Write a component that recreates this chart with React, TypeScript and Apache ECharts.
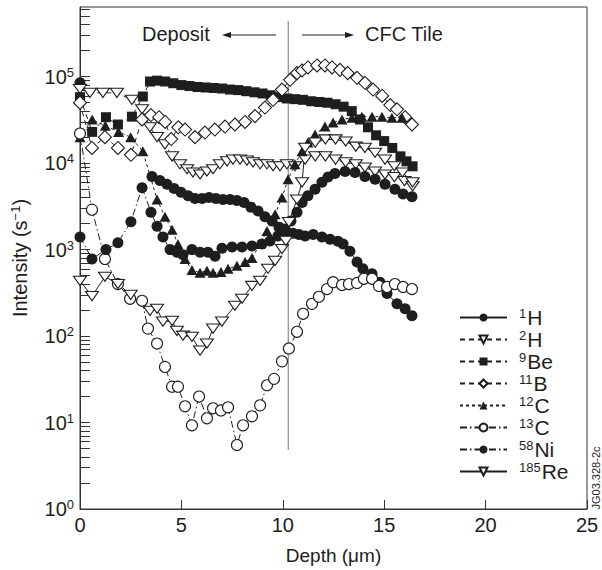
import React, { useEffect, useRef } from 'react';
import * as echarts from 'echarts';

const FONT = '"Liberation Sans", Arial, Helvetica, sans-serif';
const INK = '#1e1e1e';

// ---- data (x: depth in µm, y: intensity in counts/s) ----
const h1 = [[0,85000],[0.3,null],[3.55,7000],[3.94,6300],[4.29,5700],[4.64,5100],[4.98,4600],[5.33,4200],[5.67,3900],[6.02,3900],[6.36,4000],[6.7,3900],[7.05,3800],[7.4,3800],[7.74,3700],[8.09,3500],[8.43,3100],[8.78,2800],[9.12,2400],[9.47,2150],[9.81,1820],[10.16,1600],[10.5,1550],[10.8,1500],[11.1,1440],[11.5,1500],[11.93,1400],[12.33,1320],[12.72,1250],[12.97,1160],[13.31,960],[13.66,720],[13.95,600],[14.4,525],[14.79,420],[15.14,310],[15.63,236],[16.03,207],[16.37,172]];
const h2 = [[0,72000],[0.49,65000],[1.13,65000],[1.82,65000],[2.56,54000],[3.06,42000],[3.45,26000],[3.8,20000],[4.19,16500],[4.54,12000],[4.93,9700],[5.28,8500],[5.57,7800],[5.92,7400],[6.26,8000],[6.56,8500],[6.9,9700],[7.25,10500],[7.54,11000],[7.89,11000],[8.23,10700],[8.53,10200],[8.88,9700],[9.22,9700],[9.52,9200],[9.86,9200],[10.2,9700],[10.6,9200],[11.1,11000],[11.6,12000],[12.1,12000],[12.6,11000],[13.1,10200],[13.6,9700],[14.05,8900],[14.55,8000],[15.04,7400],[15.5,6900],[16.0,6200],[16.4,5400]];
const be9 = [[0,58000],[0.6,23000],[1.28,34000],[1.87,28000],[2.56,34500],[3.1,59000],[3.45,88000],[3.8,90000],[4.2,88000],[4.6,84000],[5.0,80000],[5.4,78000],[5.8,76000],[6.2,75000],[6.6,74000],[7.0,73000],[7.4,71000],[7.8,70000],[8.2,68000],[8.6,66000],[9.0,64000],[9.4,61000],[9.8,58000],[10.2,56000],[10.6,55000],[11.0,54000],[11.4,52000],[11.8,51000],[12.2,50000],[12.6,48000],[13.0,45000],[13.4,40000],[13.8,32000],[14.2,26000],[14.6,21000],[15.0,18000],[15.4,15000],[15.8,12000],[16.1,10500],[16.4,9200]];
const b11 = [[0,50000],[0.59,15000],[1.23,20000],[1.87,15000],[2.51,12500],[3.06,32000],[3.5,36000],[3.9,34000],[4.2,30000],[4.5,19000],[4.85,26000],[5.18,24500],[5.67,20000],[6.16,22600],[6.65,24500],[7.15,26500],[7.64,28000],[8.14,30000],[8.63,35000],[9.12,44000],[9.52,54000],[9.96,71000],[10.36,92000],[10.7,110000],[10.95,118000],[11.24,128000],[11.69,135000],[12.08,135000],[12.43,128000],[12.82,120000],[13.2,110000],[13.66,97000],[14.05,85000],[14.45,71000],[14.9,60000],[15.3,47000],[15.63,42000],[16.03,34000],[16.37,28000]];
const c12 = [[0,20000],[0.6,32000],[1.25,27000],[1.9,23000],[2.5,20000],[3.1,13700],[3.8,3800],[4.19,2400],[4.54,1700],[4.83,1150],[5.18,780],[5.52,580],[5.92,540],[6.26,570],[6.56,540],[6.95,550],[7.3,600],[7.74,650],[8.14,720],[8.48,800],[8.88,1160],[9.22,1640],[9.62,2570],[9.96,4000],[10.26,6500],[10.6,9700],[10.95,13700],[11.24,17300],[11.59,21500],[12.08,26500],[12.48,29500],[12.92,32000],[13.41,33500],[13.9,34500],[14.4,34500],[14.89,34500],[15.38,33500],[15.88,33500]];
const c13 = [[0,22000],[0.59,2900],[1.23,780],[1.87,400],[2.47,270],[3.06,256],[3.35,122],[3.8,82],[4.19,44],[4.54,26],[4.83,26],[5.18,15.4],[5.52,9.3],[5.87,20],[6.26,11.2],[6.56,14.6],[6.95,13.8],[7.3,15],[7.74,5.5],[8.04,9.3],[8.48,11.8],[8.88,15.8],[9.22,27],[9.57,32],[9.96,51],[10.3,72],[10.7,112],[11.0,181],[11.44,236],[11.78,285],[12.18,350],[12.48,420],[12.92,390],[13.26,400],[13.66,412],[14.0,460],[14.4,460],[14.74,380],[15.14,370],[15.53,400],[15.93,370],[16.37,350]];
const ni58 = [[0,1400],[0.59,780],[1.28,1000],[1.87,1200],[2.51,2100],[3.06,5200],[3.5,2700],[3.8,1860],[4.09,1400],[4.44,1000],[4.78,930],[5.08,870],[5.52,1000],[5.92,930],[6.31,930],[6.66,840],[7.0,1040],[7.5,1070],[7.99,1070],[8.48,1100],[8.97,1160],[9.37,1260],[9.76,1440],[10.11,1730],[10.4,2150],[10.7,2700],[10.95,3500],[11.24,4200],[11.59,5000],[11.93,6000],[12.23,6900],[12.57,7600],[13.07,8000],[13.56,7800],[14.05,7000],[14.55,6500],[15.04,5700],[15.53,5000],[15.93,4400],[16.37,4100]];
const re185 = [[0,435],[0.59,290],[1.23,485],[1.87,400],[2.5,300],[3.45,196],[3.8,207],[4.09,147],[4.54,150],[4.78,115],[5.08,101],[5.52,98],[5.92,68],[6.26,82],[6.56,122],[7.0,147],[7.64,224],[7.99,270],[8.48,380],[8.88,435],[9.27,600],[9.62,740],[9.96,1015],[10.15,1260],[10.3,2080],[10.7,3800],[10.95,6000],[11.1,15000],[11.6,17300],[12.1,18800],[12.6,18800],[13.1,17800],[13.6,15500],[14.05,15000],[14.55,13200],[15.04,11000],[15.5,9200],[15.9,7800],[16.4,6000]];

const seriesNames = ['1H', '2H', '9Be', '11B', '12C', '13C', '58Ni', '185Re'];
const seriesData = [h1, h2, be9, b11, c12, c13, ni58, re185];

const xTicks = [0, 5, 10, 15, 20, 25];
const yLabelValues = [1, 10, 100, 1000, 10000, 100000];
const yMax = 640000;
const interfaceDepth = 10.27;
const interfaceSpan = [440000, 4.8];

const DOWN_TRI = 'path://M0,0 L12,0 L6,10 Z';

const styles = [
  { symbol: 'circle', size: 11, open: false, dash: 'solid' },
  { symbol: DOWN_TRI, size: [13, 11], open: true, dash: [5, 4] },
  { symbol: 'rect', size: 10, open: false, dash: [5, 4] },
  { symbol: 'diamond', size: 13, open: true, dash: [5, 4] },
  { symbol: 'triangle', size: [11, 10], open: false, dash: [3, 3] },
  { symbol: 'circle', size: 11, open: true, dash: [7, 3, 1.5, 3] },
  { symbol: 'circle', size: 11, open: false, dash: [7, 3, 1.5, 3] },
  { symbol: DOWN_TRI, size: [13, 11], open: true, dash: 'solid' },
];

function buildMinorTicks(): number[] {
  const out: number[] = [];
  for (const d of yLabelValues) {
    for (let m = 1; m <= 9; m++) {
      const v = m * d;
      if (v <= yMax) out.push(v);
    }
  }
  return out;
}

export default function App() {
  const ref = useRef<HTMLDivElement>(null);
  useEffect(() => {
    document.body.style.margin = '0';
    if (!ref.current) return;
    const chart = echarts.init(ref.current, null, { renderer: 'svg' });

    const supRich = {
      b: { fontSize: 20, fontFamily: FONT, color: INK, lineHeight: 22 },
      s: { fontSize: 13, fontFamily: FONT, color: INK, lineHeight: 13, verticalAlign: 'top' },
    };
    const legendRich = {
      b: { fontSize: 21, fontFamily: FONT, color: INK, lineHeight: 21 },
      s: { fontSize: 13, fontFamily: FONT, color: INK, lineHeight: 13, verticalAlign: 'top', padding: [0, 1, 0, 7] },
    };

    const series: any[] = seriesNames.map((name, i) => {
      const st = styles[i];
      return {
        type: 'line',
        name,
        data: seriesData[i],
        symbol: st.symbol,
        symbolSize: st.size,
        showAllSymbol: true,
        symbolKeepAspect: true,
        connectNulls: false,
        lineStyle: { color: INK, width: 1, type: st.dash },
        itemStyle: {
          color: st.open ? '#ffffff' : INK,
          borderColor: INK,
          borderWidth: st.open ? 1.1 : 0,
        },
        emphasis: { disabled: true },
      };
    });

    series.push({
      type: 'line',
      name: 'interface',
      data: [[interfaceDepth, interfaceSpan[0]], [interfaceDepth, interfaceSpan[1]]],
      symbol: 'none',
      lineStyle: { color: '#8c8c8c', width: 1.2 },
      silent: true,
      z: 1,
    });

    const option: any = {
      animation: false,
      backgroundColor: '#ffffff',
      textStyle: { fontFamily: FONT },
      grid: { left: 80, right: 15, top: 7, bottom: 59, show: true, borderColor: '#333', borderWidth: 1, backgroundColor: 'transparent' },
      xAxis: {
        type: 'value',
        min: xTicks[0],
        max: xTicks[xTicks.length - 1],
        interval: 5,
        axisLine: { show: true, lineStyle: { color: '#333', width: 1 } },
        axisTick: { show: true, inside: true, length: 9, lineStyle: { color: '#333' } },
        axisLabel: { fontSize: 20, color: INK, fontFamily: FONT, margin: 6 },
        splitLine: { show: false },
        name: 'Depth (μm)',
        nameLocation: 'middle',
        nameGap: 37,
        nameTextStyle: { fontSize: 19, color: INK, fontFamily: FONT },
      },
      yAxis: {
        type: 'log',
        logBase: 10,
        min: yLabelValues[0],
        max: yMax,
        axisLine: { show: true, lineStyle: { color: '#333', width: 1 } },
        axisTick: { show: true, inside: true, length: 10, customValues: buildMinorTicks(), lineStyle: { color: '#333' } },
        minorTick: { show: false },
        axisLabel: {
          customValues: yLabelValues,
          margin: 6,
          formatter: (v: number) => `{b|10}{s|${Math.round(Math.log10(v))}}`,
          rich: supRich,
        },
        splitLine: { show: false },
        name: 'Intensity (s{s|−1})',
        nameLocation: 'middle',
        nameGap: 49,
        nameRotate: 90,
        nameTextStyle: { fontSize: 20, color: INK, fontFamily: FONT, lineHeight: 22, rich: { s: { fontSize: 13, fontFamily: FONT, color: INK, lineHeight: 12, verticalAlign: 'top' } } },
      },
      legend: {
        data: seriesNames,
        orient: 'vertical',
        left: 454,
        top: 302,
        itemWidth: 47,
        itemHeight: 10,
        itemGap: 1,
        selectedMode: false,
        formatter: (name: string) => {
          const m = name.match(/^(\d+)(.*)$/);
          return m ? `{s|${m[1]}}{b|${m[2]}}` : name;
        },
        textStyle: { color: INK, fontFamily: FONT, rich: legendRich },
      },
      graphic: [
        { type: 'text', left: 142, top: 24, style: { text: 'Deposit', fontSize: 20, fontFamily: FONT, fill: INK } },
        { type: 'line', shape: { x1: 228, y1: 35, x2: 276, y2: 35 }, style: { stroke: INK, lineWidth: 1 } },
        { type: 'polygon', shape: { points: [[222, 35], [231, 32], [231, 38]] }, style: { fill: INK } },
        { type: 'line', shape: { x1: 302, y1: 35, x2: 348, y2: 35 }, style: { stroke: INK, lineWidth: 1 } },
        { type: 'polygon', shape: { points: [[354, 35], [345, 32], [345, 38]] }, style: { fill: INK } },
        { type: 'text', left: 365, top: 24, style: { text: 'CFC Tile', fontSize: 20, fontFamily: FONT, fill: INK } },
        { type: 'text', x: 596, y: 478, rotation: Math.PI / 2, style: { text: 'JG03.328-2c', fontSize: 11, fontFamily: FONT, fill: INK, align: 'center', verticalAlign: 'middle' } },
      ],
      series,
    };

    chart.setOption(option);
    return () => chart.dispose();
  }, []);

  return <div ref={ref} style={{ width: 602, height: 570 }} />;
}
